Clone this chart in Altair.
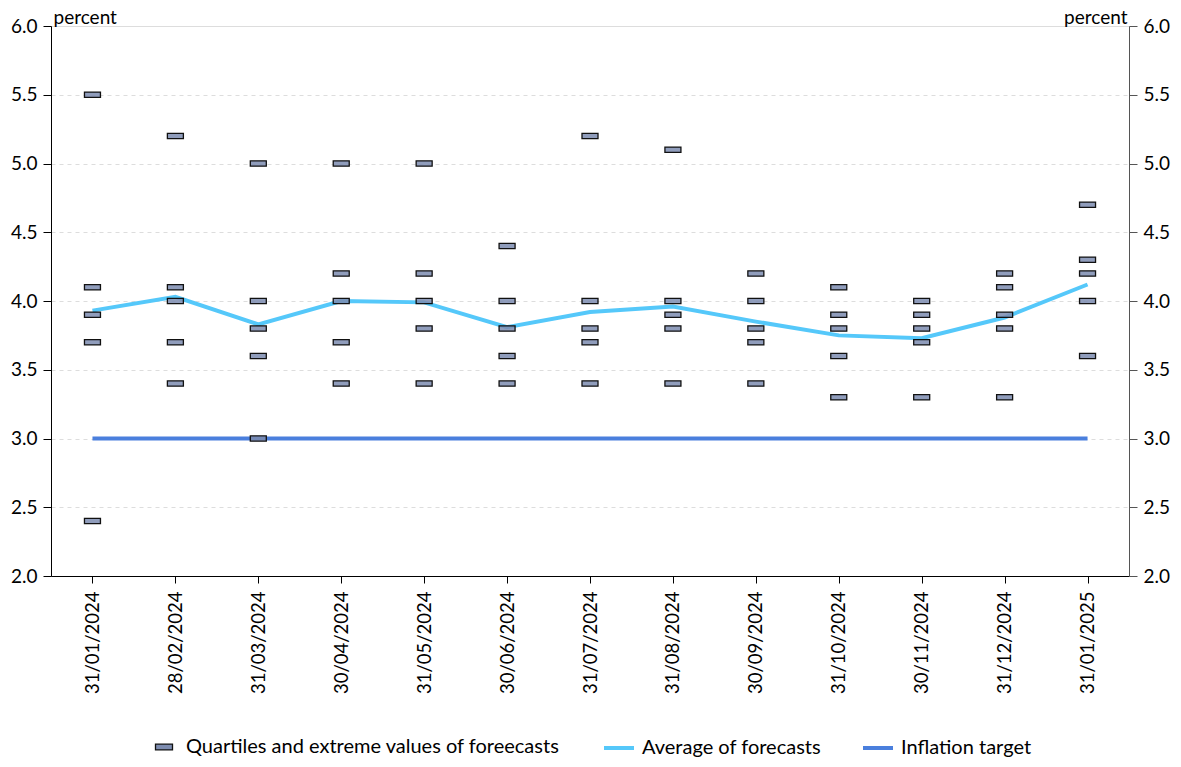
import altair as alt
import pandas as pd

dates = ["31/01/2024", "28/02/2024", "31/03/2024", "30/04/2024", "31/05/2024",
         "30/06/2024", "31/07/2024", "31/08/2024", "30/09/2024", "31/10/2024",
         "30/11/2024", "31/12/2024", "31/01/2025"]
q_max = [5.5, 5.2, 5.0, 5.0, 5.0, 4.4, 5.2, 5.1, 4.2, 4.1, 4.0, 4.2, 4.7]
q_upper = [4.1, 4.1, 4.0, 4.2, 4.2, 4.0, 4.0, 4.0, 4.0, 3.9, 3.9, 4.1, 4.3]
q_median = [3.9, 4.0, 3.8, 4.0, 4.0, 3.8, 3.8, 3.9, 3.8, 3.8, 3.8, 3.9, 4.2]
q_lower = [3.7, 3.7, 3.6, 3.7, 3.8, 3.6, 3.7, 3.8, 3.7, 3.6, 3.7, 3.8, 4.0]
q_min = [2.4, 3.4, 3.0, 3.4, 3.4, 3.4, 3.4, 3.4, 3.4, 3.3, 3.3, 3.3, 3.6]
average = [3.93, 4.03, 3.83, 4.0, 3.99, 3.81, 3.92, 3.96, 3.85, 3.75, 3.73, 3.88, 4.12]
target = [3.0] * 13

Q_NAME = "Quartiles and extreme values of foreecasts"
AVG_NAME = "Average of forecasts"
TGT_NAME = "Inflation target"

FONT = "Lato"

rows = []
for arr in (q_max, q_upper, q_median, q_lower, q_min):
    for d, v in zip(dates, arr):
        rows.append({"date": d, "value": v, "series": Q_NAME})
qdf = pd.DataFrame(rows)

ldf = pd.DataFrame(
    [{"date": d, "value": v, "series": AVG_NAME} for d, v in zip(dates, average)]
    + [{"date": d, "value": v, "series": TGT_NAME} for d, v in zip(dates, target)]
)

x_enc = alt.X("date:N", sort=dates, scale=alt.Scale(domain=dates, paddingInner=0, paddingOuter=0),
              axis=alt.Axis(title=None, labelAngle=-90, labelFontSize=18.5, labelFont=FONT,
                            labelColor="#000", tickColor="#000", domainColor="#000",
                            tickSize=7, labelPadding=8, grid=False, labelAlign="right",
                            labelBaseline="middle"))

yscale = alt.Scale(domain=[2, 6], nice=False, zero=False)
yvals = [2, 2.5, 3, 3.5, 4, 4.5, 5, 5.5, 6]

left_axis = alt.Axis(title="percent", titleAngle=0, titleX=2, titleY=-3, titleAlign="left",
                     titleBaseline="alphabetic", titleFontWeight="normal", titleFontSize=19,
                     titleFont=FONT, titleColor="#000",
                     values=yvals, format=".1f",
                     labelFontSize=19, labelFont=FONT, labelColor="#000",
                     tickColor="#000", domainColor="#000", tickSize=8, labelPadding=6,
                     grid=True, gridColor="#dddddd", gridDash=[4, 4], gridWidth=1)
right_axis = alt.Axis(title="percent", orient="right", titleAngle=0, titleX=-2, titleY=-3,
                      titleAlign="right", titleBaseline="alphabetic", titleFontWeight="normal",
                      titleFontSize=19, titleFont=FONT, titleColor="#000",
                      values=yvals, format=".1f",
                      labelFontSize=19, labelFont=FONT, labelColor="#000",
                      tickColor="#555", domainColor="#555", tickSize=8, labelPadding=6,
                      grid=False)

lines = alt.Chart(ldf).mark_line(strokeWidth=4).encode(
    x=x_enc,
    y=alt.Y("value:Q", scale=yscale, axis=left_axis),
    stroke=alt.Stroke("series:N",
                      scale=alt.Scale(domain=[AVG_NAME, TGT_NAME], range=["#55c8fa", "#4a7fdd"]),
                      legend=alt.Legend(title=None, orient="none", direction="horizontal",
                                        legendX=551, legendY=705, symbolType="stroke",
                                        symbolSize=900, symbolStrokeWidth=4,
                                        labelFontSize=20, labelFont=FONT, labelColor="#000",
                                        labelLimit=0, columnPadding=34, labelOffset=6)),
    detail="series:N",
)

markers = alt.Chart(qdf).mark_point(
    shape="M-1,-0.34H1V0.34H-1Z", size=256, filled=True,
    stroke="#111", strokeWidth=1.3, fillOpacity=0.85, opacity=1,
).encode(
    x=x_enc,
    y=alt.Y("value:Q", scale=yscale, axis=right_axis),
    fill=alt.Fill("series:N", scale=alt.Scale(domain=[Q_NAME], range=["#7d8cb0"]),
                  legend=alt.Legend(title=None, orient="none", direction="horizontal",
                                    legendX=103, legendY=711,
                                    symbolType="M-1,-0.34H1V0.34H-1Z", symbolSize=289,
                                    symbolStrokeColor="#111", symbolStrokeWidth=1.3,
                                    labelFontSize=20, labelFont=FONT, labelColor="#000",
                                    labelLimit=0, labelOffset=12)),
)

chart = alt.layer(lines, markers).resolve_scale(y="shared").resolve_axis(y="independent").properties(
    width=1078, height=550,
    autosize=alt.AutoSizeParams(type="none"),
    padding={"left": 43, "top": 18, "right": 44, "bottom": 183},
).configure_view(stroke=None).configure(background="white")

chart.save("out.html", embed_options={"renderer": "svg", "actions": False})
